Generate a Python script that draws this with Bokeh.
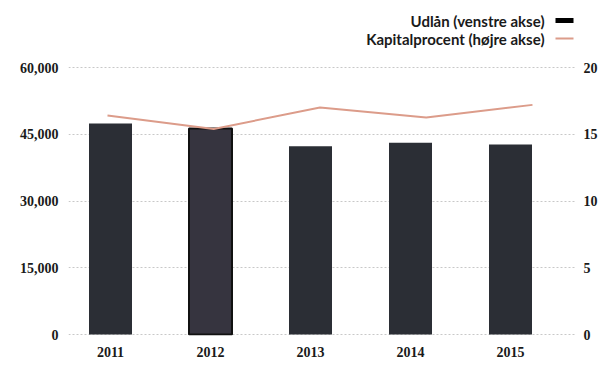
from bokeh.plotting import figure
from bokeh.models import (ColumnDataSource, Range1d, LinearAxis, FixedTicker,
                          NumeralTickFormatter, Label, BoxAnnotation)
from bokeh.embed import file_html
from bokeh.resources import INLINE

years = [2011, 2012, 2013, 2014, 2015]
udlaan = [47400, 46300, 42300, 43100, 42700]
kapitalprocent = [16.4, 15.4, 17.0, 16.25, 17.2]
left_ticks = [0, 15000, 30000, 45000, 60000]
right_ticks = [0, 5, 10, 15, 20]
legend_items = ["Udlån (venstre akse)", "Kapitalprocent (højre akse)"]

BAR = "#2b2e35"
LINE = "#dc9c8a"
TICKFONT = "Liberation Serif"

fill_colors = [BAR, "#36343f", BAR, BAR, BAR]
line_colors = [BAR, "#111111", BAR, BAR, BAR]
line_widths = [0, 2, 0, 0, 0]

src = ColumnDataSource(dict(x=years, top=udlaan, fc=fill_colors, lc=line_colors, lw=line_widths))

# pixel geometry of the plotting frame
FRAME_TOP, FRAME_BOTTOM, ZERO_PX, TOP_TICK_PX = 10, 335, 334, 67
upp = 60000 / (ZERO_PX - TOP_TICK_PX)          # left-axis units per pixel
ppp = 20 / (ZERO_PX - TOP_TICK_PX)             # right-axis units per pixel

p = figure(width=600, height=362, output_backend="svg", toolbar_location=None,
           x_range=Range1d(2010.58, 2015.65),
           y_range=Range1d(-(FRAME_BOTTOM - ZERO_PX) * upp, 60000 + (TOP_TICK_PX - FRAME_TOP) * upp),
           min_border_left=68, min_border_right=25, min_border_top=FRAME_TOP,
           min_border_bottom=362 - FRAME_BOTTOM,
           outline_line_color=None, background_fill_color="white", border_fill_color="white")
p.extra_y_ranges = {"pct": Range1d(-(FRAME_BOTTOM - ZERO_PX) * ppp, 20 + (TOP_TICK_PX - FRAME_TOP) * ppp)}
p.extra_x_ranges = {"lx": Range1d(2010.633, 2015.405)}

p.vbar(x="x", top="top", width=0.43, bottom=0, source=src, fill_color="fc",
       line_color="lc", line_width="lw")
p.line(years, kapitalprocent, x_range_name="lx", y_range_name="pct",
       line_color=LINE, line_width=2)

# axes
p.xaxis.ticker = FixedTicker(ticks=years)
p.xaxis.formatter = NumeralTickFormatter(format="0")
p.yaxis.ticker = FixedTicker(ticks=left_ticks)
p.yaxis.formatter = NumeralTickFormatter(format="0,0")
ra = LinearAxis(y_range_name="pct", ticker=FixedTicker(ticks=right_ticks))
p.add_layout(ra, "right")

for ax in [p.xaxis[0], p.yaxis[0], ra]:
    ax.axis_line_color = None
    ax.major_tick_line_color = None
    ax.minor_tick_line_color = None
    ax.major_tick_out = 0
    ax.major_tick_in = 0
    ax.minor_tick_out = 0
    ax.major_label_text_font = TICKFONT
    ax.major_label_text_font_style = "bold"
    ax.major_label_text_font_size = "14px"
    ax.major_label_text_color = "#1a1a1a"
p.xaxis.major_label_standoff = 11
p.yaxis[0].major_label_standoff = 10
ra.major_label_standoff = 8

p.xgrid.grid_line_color = None
p.ygrid.ticker = FixedTicker(ticks=left_ticks)
p.ygrid.grid_line_color = "#c8c8c8"
p.ygrid.grid_line_dash = "2 2"
p.ygrid.grid_line_width = 1

# legend: text right aligned, swatch to its right (placed in the empty top of the frame)
x0 = 2010.58
def px_x(px):
    return x0 + (px - 68) / 100.0
def px_y(px):
    return (ZERO_PX - px) * upp

for i, (txt, col, th) in enumerate(zip(legend_items, ["#000000", LINE], [5, 2])):
    ypx = 20 + i * 18
    p.add_layout(Label(x=px_x(544), y=px_y(ypx), text=txt,
                       text_align="right", text_baseline="middle", text_font="Lato",
                       text_font_style="bold", text_font_size="15px", text_color="#1a1a1a"))
    p.add_layout(BoxAnnotation(left=px_x(555), right=px_x(573),
                               bottom=px_y(ypx + th / 2), top=px_y(ypx - th / 2),
                               fill_color=col, fill_alpha=1, line_color=None))

open("out.html", "w").write(file_html(p, INLINE))
